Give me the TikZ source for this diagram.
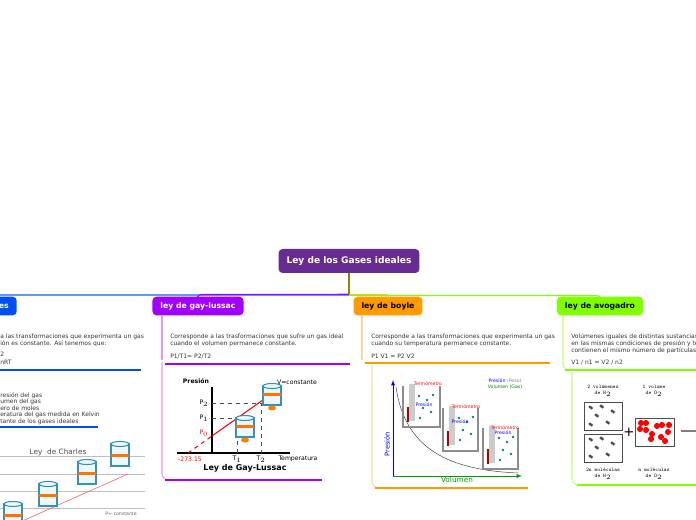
\documentclass[tikz,border=0pt]{standalone}
\usepackage{fontspec}
\setmainfont{DejaVu Sans}
\begin{document}
\begin{tikzpicture}[x=0.75pt,y=-0.75pt,
  tx/.style={font=\fontsize{4.5}{5.3}\selectfont,text=black!80,anchor=north west,inner sep=0,align=left},
  br/.style={rounded corners=3pt,font=\bfseries\fontsize{5.8}{7}\selectfont,minimum height=14pt,inner xsep=6pt},
  cyl/.style={draw=cyan!70!black,fill=cyan!8,thick}]
\useasboundingbox (0,0) rectangle (696,520);
\definecolor{pur}{HTML}{672C91}\definecolor{vio}{HTML}{A100FF}\definecolor{blu}{HTML}{0050F0}
\definecolor{ora}{HTML}{FF9A00}\definecolor{gre}{HTML}{80FF00}
% connectors
\node[br,fill=pur,text=white,minimum width=105pt,minimum height=18pt,font=\bfseries\fontsize{6.8}{8}\selectfont] (root) at (349,261) {Ley de los Gases ideales};
\node[br,fill=blu,text=white,anchor=east] (b1) at (17,306) {es};
\node[br,fill=vio,text=white] (b2) at (198,306) {ley de gay-lussac};
\node[br,fill=ora,text=black] (b3) at (388,306) {ley de boyle};
\node[br,fill=gre,text=black] (b4) at (600,306) {ley de avogadro};
\draw[blu!60,thick] (root.south) |- (0,295);
\draw[vio,thick,rounded corners=2pt] (root.south) ++(0,21) -- (199,294.5) -- (b2.north);
\draw[ora!70,thick,rounded corners=2pt] (349,294.5) -- (389,294.5) -- (b3.north);
\draw[gre,thick,rounded corners=2pt] (349,295.5) -- (597,295.5) -- (b4.north);
\draw[olive,thick] (root.south) -- ++(0,21);
% blue branch
\node[tx] (t1) at (0,334) {a las transformaciones que experimenta un gas\\ión es constante. Así tenemos que:\\[3pt]2\\ nRT};
\draw[blu,line width=1.6pt] (0,370) -- (141,370);
\node[tx,font=\fontsize{4.5}{4.9}\selectfont] (t1b) at (0,392) {resión del gas\\umen del gas\\ero de moles\\eratura del gas medida en Kelvin\\tante de los gases ideales};
\draw[blu,line width=1.6pt] (0,427) -- (98,427);
\node[font=\fontsize{5.5}{6}\selectfont,text=black!70] (ch) at (58,452) {Ley\,\, de Charles};
\foreach \y in {456,474,491,508} \draw[black!25] (0,\y) -- (145,\y);
\draw[red!70] (20,522) -- (128,474);
\foreach \x/\y in {13/512,48/492,87/470,120/452}{
 \draw[cyl] (\x-9,\y-8) rectangle (\x+9,\y+14);
 \draw[cyl] (\x,\y-8) ellipse (9 and 2.5);
 \fill[orange!90!red] (\x-9,\y+2) rectangle (\x+9,\y+5);}
\node[font=\fontsize{3.5}{4}\selectfont,text=black!60] (pc) at (121,514) {P= constante};
% gay-lussac
\draw[vio!40,thick] (162,315) -- (162,360);
\node[tx] (t2) at (170,334) {Corresponde a las trasformaciones que sufre un gas ideal\\cuando el volumen permanece constante.\\[4pt]P1/T1= P2/T2};
\draw[vio,line width=1.6pt] (165,364) -- (350,364);
\draw[vio!40,thick,rounded corners=3pt] (162,362) -- (162,478) -- (168,480);
\draw[vio,line width=1.6pt] (165,480) -- (322,480);
\begin{scope}[font=\fontsize{4.6}{5}\selectfont,black]
\draw[thick] (177,453) -- (290,453); \draw[thick] (212,387) -- (212,453);
\node (pr) at (196,381) {\bfseries Presión};
\node (vc) at (297,382) {V=constante};
\draw[dashed,black!70] (212,403) -- (261,403) -- (261,453);
\draw[dashed,black!70] (212,418) -- (237,418) -- (237,453);
\node (p2) at (204,403) {P$_2$}; \node (p1) at (204,418) {P$_1$}; \node[red] (p0) at (204,433) {P$_0$};
\draw[red,dashed,thick] (188,453) -- (212,436);
\draw[red,thick] (212,436) -- (270,395);
\node[red] (m) at (190,459) {-273.15}; \node (tt1) at (237,459) {T$_1$}; \node (tt2) at (261,459) {T$_2$};
\node (tp) at (298,459) {Temperatura};
\node[font=\bfseries\fontsize{6}{7}\selectfont] (gl) at (245,468) {Ley de Gay-Lussac};
\foreach \x/\y in {245/425,272/393}{
 \draw[cyl] (\x-9,\y-7) rectangle (\x+9,\y+12);
 \draw[cyl] (\x,\y-7) ellipse (9 and 2.5);
 \fill[orange!90!red] (\x-9,\y) rectangle (\x+9,\y+3);
 \fill[orange] (\x,\y+15) ellipse (4 and 2.5);}
\end{scope}
% boyle
\draw[ora!40,thick] (362,315) -- (362,360);
\node[tx] (t3) at (371,334) {Corresponde a las transformaciones que experimenta un gas\\cuando su temperatura permanece constante.\\[4pt]P1 V1 = P2 V2};
\draw[ora,line width=1.6pt] (365,363) -- (550,363);
\draw[ora!40,thick,rounded corners=3pt] (372,365) -- (372,486) -- (378,488);
\draw[ora,line width=1.6pt] (375,488) -- (528,488);
\draw[blue,-latex] (393,476) -- (393,380);
\draw[green!60!black,-latex] (393,476) -- (522,476);
\draw[black!70] (396,387) .. controls (405,450) and (450,470) .. (518,473);
\foreach \a/\b/\c/\d in {403/386/440/427,443/408/478/451,483/428/518/469}{
 \draw[black!45,line width=2pt] (\a,\b) -- (\a,\d) -- (\c,\d) -- (\c,\b);
 \fill[black!20] (\a+6,\b-2) rectangle (\a+12,\d-6);
 \fill[red!70!black] (\a+4,\d-20) rectangle (\a+6,\d-5);
 \foreach \p/\q in {16/10,24/14,30/9,20/22,28/26,17/32}{\fill[teal] (\a+\p,\b+\q) circle (1pt);}}
\begin{scope}[font=\fontsize{3.5}{4}\selectfont]
\node[red] (th1) at (428,384) {Termómetro}; \node[red] (th2) at (466,407) {Termómetro};\node[red] (th3) at (505,428) {Termómetro};
\node[blue] (pp) at (505,381) {Presión \textcolor{black!50}{(Peso)}}; \node[green!50!black] (vv) at (505,387) {Volumen (Gas)};
\node[blue] (pa) at (424,405) {Presión}; \node[blue] (pb) at (460,422) {Presión}; \node[blue] (pc2) at (503,433) {Presión};
\end{scope}
\node[blue,rotate=90,font=\fontsize{5}{6}\selectfont] (yl) at (387,444) {Presión};
\node[green!60!black,font=\fontsize{5.5}{6}\selectfont] (xl) at (457,480) {Volumen};
% avogadro
\draw[gre!50,thick,rounded corners=3pt] (563,315) -- (563,368) -- (568,370);
\node[tx] (t4) at (571,333) {Volúmenes iguales de distintas sustancias ga\\en las mismas condiciones de presión y temp\\contienen el mismo número de partículas.\\[4pt]V1 / n1 = V2 / n2};
\draw[gre,line width=1.6pt] (565,370) -- (696,370);
\draw[gre!50,thick,rounded corners=3pt] (572,372) -- (572,483) -- (578,485);
\draw[gre,line width=1.6pt] (577,485) -- (696,485);
\begin{scope}[font=\ttfamily\fontsize{4}{5}\selectfont]
\node[align=center] (la) at (603,391) {2 volúmenes\\de H$_2$};
\node[align=center] (lb) at (654,391) {1 volume\\de O$_2$};
\node[align=center] (lc) at (603,474) {2n moléculas\\de H$_2$};
\node[align=center] (ld) at (654,474) {n moléculas\\de O$_2$};
\end{scope}
\foreach \y in {402,434}{\draw[black!70] (584,\y) rectangle (622,\y+28);
 \foreach \dx/\dy in {6/5,17/4,28/9,12/13,23/20,6/22}{\fill[black!70] (584+\dx,\y+\dy) circle (1.2pt) ++(1.5,1) circle (1.2pt);}}
\node (plus) at (629,432) {+};
\draw[black!70] (635,418) rectangle (674,446);
\foreach \dx/\dy in {6/5,11/5,5/11,11/12,22/8,27/7,34/7,33/14,17/16,16/21,26/19,30/23}
 \fill[red] (635+\dx,418+\dy) circle (2.3pt);
\draw[black!50,thick] (681,431) -- (696,431);
\end{tikzpicture}
\end{document}
